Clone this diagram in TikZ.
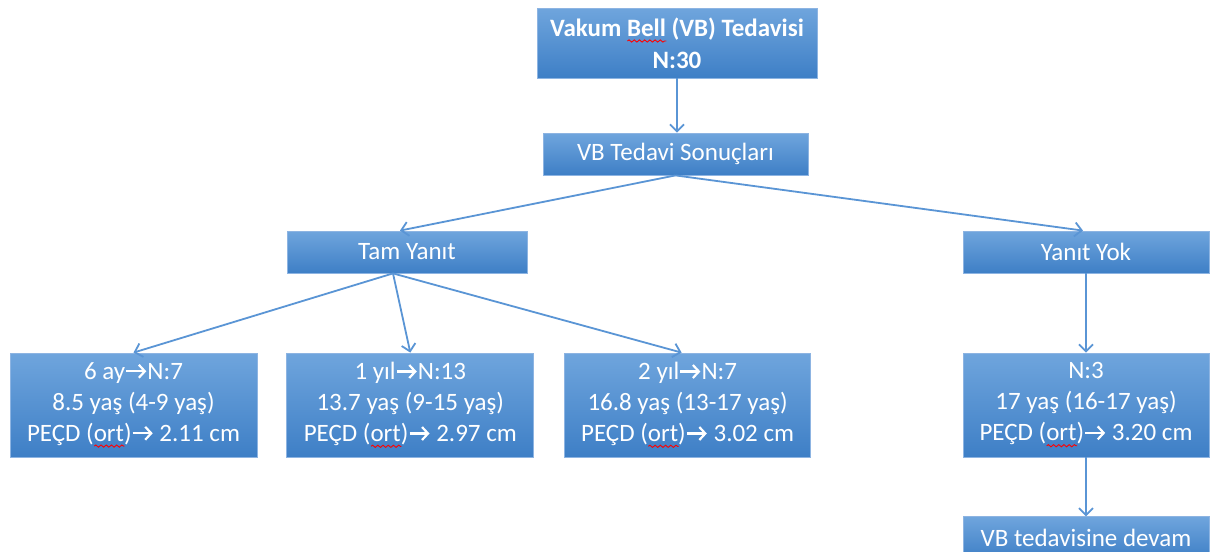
\documentclass[tikz,border=0pt]{standalone}
\usepackage{fontspec}
\setmainfont{Carlito}
\usepackage{tikz}
\usetikzlibrary{arrows.meta, positioning, decorations.pathmorphing}
\definecolor{cTop} {HTML}{6FA5DD}
\definecolor{cBot} {HTML}{3E7FC6}
\definecolor{cEdge}{HTML}{8DB4E2}
\definecolor{cLine}{HTML}{5A95D5}
\newlength\spellw
\newcommand\spellwave[1]{\settowidth\spellw{#1}%
  {\rlap{\raisebox{-2.4pt}{\tikz[baseline=0pt]\draw[red, line width=0.45pt,
    decorate, decoration={snake, amplitude=0.55pt, segment length=2.6pt}]
    (0pt,0pt) -- (\spellw,0pt);}}#1}}
\newcommand\yon{\tikz[baseline=-4pt]\draw[white, line width=1.1pt,
  -{Straight Barb[length=3pt,width=6.5pt,line width=1.1pt]}] (0pt,0pt) -- (10pt,0pt);}

\begin{document}
\begin{tikzpicture}[
  x=0.5pt, y=-0.5pt,
  box/.style 2 args={
    draw=cEdge, line width=0.4pt, top color=cTop, bottom color=cBot,
    text=white, minimum width=#1*0.5pt, minimum height=#2*0.5pt,
    inner sep=0pt, align=center, font=\fontsize{12.5}{15.5}\selectfont,
  },
  arr/.style={-{Straight Barb[length=3.5pt,width=7pt]}, line width=0.9pt, color=cLine},
]
\clip (0,0) rectangle (1212,552);
\fill[white] (0,0) rectangle (1212,552);

%% ── Top levels ───────────────────────────────────────────────────────
\node[box={280}{70}, font=\fontsize{12.5}{16}\selectfont\bfseries] (top) at (677,43)
  {Vakum \spellwave{Bell} (VB) Tedavisi\\N:30};
\node[box={265}{42}] (res) at (675.5,154) {VB Tedavi Sonuçları};
\node[box={240}{42}] (tam) at (407,252)   {Tam Yanıt};
\node[box={246}{42}] (yok) at (1086,252)  {Yanıt Yok};

%% ── Outcome row ──────────────────────────────────────────────────────
\node[box={247}{104}] (b1) at (133.5,405)
  {6 ay\yon N:7\\8.5 yaş (4-9 yaş)\\PEÇD (\spellwave{ort})\yon\ 2.11 cm};
\node[box={247}{104}, right=14.5pt of b1] (b2)
  {1 yıl\yon N:13\\13.7 yaş (9-15 yaş)\\PEÇD (\spellwave{ort})\yon\ 2.97 cm};
\node[box={246}{104}, right=15pt of b2] (b3)
  {2 yıl\yon N:7\\16.8 yaş (13-17 yaş)\\PEÇD (\spellwave{ort})\yon\ 3.02 cm};
\node[box={246}{104}] (b4) at (1086,405)
  {N:3\\17 yaş (16-17 yaş)\\PEÇD (\spellwave{ort})\yon\ 3.20 cm};
\node[box={246}{42}, below=29.5pt of b4] (devam) {VB tedavisine devam};

%% ── Arrows ───────────────────────────────────────────────────────────
\draw[arr] (top.south) -- (top.south |- res.north);
\draw[arr] (res.south) -- ([xshift=-3.5pt]tam.north);
\draw[arr] (res.south) -- ([xshift=-1.5pt]yok.north);

% fan out of Tam Yanit from one point left of centre
\coordinate (split) at ([xshift=-7pt]tam.south);
\draw[arr] (split) -- (b1.north);
\draw[arr] (split) -- (b2.north);
\draw[arr] (split) -- ([xshift=-3pt]b3.north);

\draw[arr] (yok) -- (b4);
\draw[arr] (b4) -- (devam);

\end{tikzpicture}
\end{document}
